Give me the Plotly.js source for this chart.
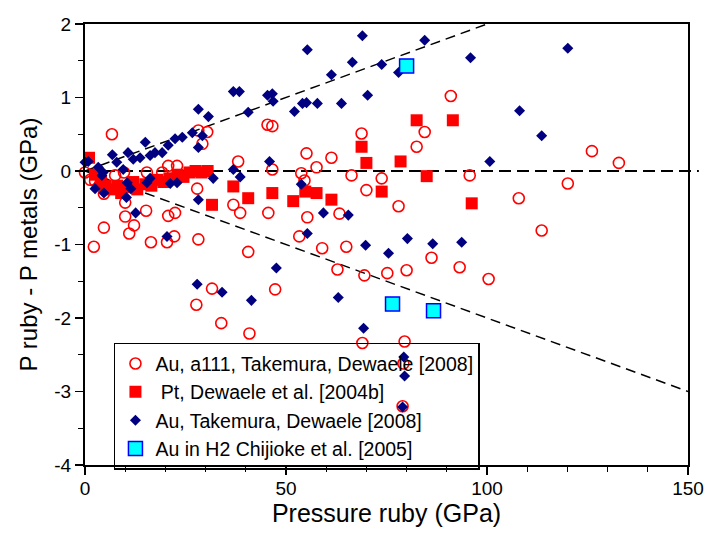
<!DOCTYPE html>
<html>
<head>
<meta charset="utf-8">
<script src="https://cdn.plot.ly/plotly-3.0.1.min.js"></script>
<style>
  html, body { margin: 0; padding: 0; background: #ffffff; }
  #chart { width: 707px; height: 537px; }
</style>
</head>
<body>
<div id="chart"></div>
<script>
// Au, a111 (Takemura, Dewaele 2008): ruby pressure and difference to metal scale
const auA111P = [0, 1.3, 2.2, 2.5, 4.7, 4.7, 6.7, 7.5, 9.7, 10, 10, 11, 12.2, 15.2, 15.4, 16.4, 19.2, 20.4,
  20.7, 20.7, 22.2, 22.4, 22.9, 27.7, 27.9, 28.2, 28.2, 29.2, 30.4, 31.6, 33.9, 36.9, 38.1, 38.6,
  40.6, 40.9, 45.4, 45.6, 46.6, 46.6, 47.3, 53.3, 53.8, 54.6, 55.1, 55.3, 57.6, 59, 61.3, 62.8,
  63.3, 65, 66.3, 68.8, 69, 69.5, 70, 73.8, 75.2, 78, 79.2, 79.5, 79, 80, 82.5, 84.5, 86.2, 91,
  93.2, 95.7, 100.4, 107.9, 113.6, 120.1, 126.1, 132.8];
const auA111D = [-0.02, -0.12, -1.03, -0.14, -0.31, -0.77, 0.50, -0.06, -0.02, -0.43, -0.62, -0.85, -0.74,
  -0.54, -0.02, -0.97, -0.02, -0.97, -0.61, 0.07, -0.89, -0.57, 0.07, -1.82, -0.24, -0.93, 0.55,
  0.37, 0.53, -1.60, -2.07, -0.46, 0.13, -0.57, -1.10, -2.21, 0.63, -0.57, 0.61, 0.02, -1.61,
  -0.89, -0.03, -0.13, 0.24, -0.63, 0.05, -1.05, 0.18, -1.34, -0.58, -1.03, -0.06, 0.51, -2.34,
  -1.42, -0.26, -0.10, -1.39, -0.48, -2.62, -2.32, -3.20, -1.35, 0.33, 0.53, -1.18, 1.02, -1.31,
  -0.06, -1.47, -0.37, -0.81, -0.17, 0.27, 0.11];

// Pt (Dewaele et al. 2004b)
const ptP = [1, 2.5, 4, 5, 6.5, 8, 9, 10.5, 12, 13, 15, 16.5, 18, 19.5, 21, 23, 24.5, 26, 27.5, 29,
  30.5, 31.6, 36.9, 40.6, 46.6, 51.8, 54.8, 57.6, 61.3, 68.8, 70, 73.8, 78.5, 82.5, 85, 91.5, 96.2];
const ptD = [0.18, -0.05, -0.15, -0.20, -0.25, -0.20, -0.30, -0.22, -0.15, -0.25, -0.18, -0.20, -0.12,
  -0.15, -0.10, -0.05, -0.08, -0.02, 0.00, -0.02, 0.00, -0.46, -0.21, -0.37, -0.30, -0.41, -0.28,
  -0.30, -0.39, 0.33, 0.11, -0.28, 0.13, 0.69, -0.07, 0.69, -0.44];

// Au (Takemura, Dewaele 2008)
const auP = [0, 0.8, 2.5, 3.3, 4.2, 4.5, 4.7, 6.8, 7.9, 9.5, 10.3, 10.5, 10.7, 11.4, 12, 12.6, 13.7, 15,
  15.4, 16.2, 16.2, 17.4, 19.2, 20.4, 20.7, 21.2, 22.4, 22.9, 24.2, 26.7, 27.9, 28.2, 28.2, 28.2,
  29.2, 30.7, 31.9, 34.1, 36.9, 36.9, 38.4, 38.6, 40.6, 41.4, 45.4, 45.9, 46.6, 46.8, 47.6, 52.1,
  53.8, 54.1, 55.1, 55.3, 55.3, 57.8, 59.3, 61.3, 63, 63.8, 65.5, 66.5, 69, 69.3, 69.8, 70.3, 73.8,
  75.5, 78, 79.3, 79.5, 79, 80.2, 84.5, 86.5, 93.7, 95.9, 100.7, 108.1, 113.6, 120.1];
const auD = [0.12, 0.13, -0.24, 0.05, -0.06, -0.02, -0.30, 0.22, 0.12, 0.02, -0.36, -0.16, 0.25, -0.24,
  0.16, -0.57, 0.18, 0.39, -0.16, 0.21, -0.10, 0.25, 0.25, -0.89, 0.35, -0.17, 0.44, -0.16, 0.46,
  0.52, -1.54, 0.84, 0.32, -0.39, 0.48, 0.74, -0.10, -1.65, 1.08, 0.02, 1.08, -0.08, 0.80, -1.76,
  1.03, 0.13, 1.05, 0.95, -1.32, 0.81, -0.18, 0.92, 0.93, 1.65, -0.85, 0.92, -0.57, 1.31, -1.72,
  0.92, -0.60, 1.48, 1.84, -2.14, -1.01, 1.03, 1.45, -1.12, 1.34, -2.53, -2.79, -3.21, -0.92, 1.78,
  -0.99, -0.97, 1.54, 0.13, 0.82, 0.48, 1.67];

// Au in H2 (Chijioke et al. 2005)
const auH2P = [80, 76.5, 86.7];
const auH2D = [1.43, -1.81, -1.90];

// +/- 2 % envelope
const envP = [0, 25, 50, 75, 100, 125, 150];
const envUpper = [0, 0.5, 1, 1.5, 2, 2.5, 3];
const envLower = [0, -0.5, -1, -1.5, -2, -2.5, -3];

const yTickVals = [2, 1, 0, -1, -2, -3, -4];
const yTickText = ['2', '1', '0', '-1', '-2', '-3', '-4'];
const xTickVals = [0, 50, 100, 150];
const xTickText = ['0', '50', '100', '150'];

const seriesNames = [
  'Au, a111, Takemura, Dewaele [2008]',
  ' Pt, Dewaele et al. [2004b]',
  'Au, Takemura, Dewaele [2008]',
  'Au in H2 Chijioke et al. [2005]'
];

const FONT = 'Arial, "Liberation Sans", sans-serif';

const traces = [
  {
    x: envP, y: envUpper, mode: 'lines', showlegend: false, hoverinfo: 'skip',
    line: { color: '#000000', width: 1.5, dash: '10px,6px' }
  },
  {
    x: envP, y: envLower, mode: 'lines', showlegend: false, hoverinfo: 'skip',
    line: { color: '#000000', width: 1.5, dash: '10px,6px' }
  },
  {
    x: auA111P, y: auA111D, mode: 'markers', name: seriesNames[0], cliponaxis: false,
    marker: { symbol: 'circle-open', size: 11, color: '#ff0000', line: { color: '#ff0000', width: 1.6 } }
  },
  {
    x: ptP, y: ptD, mode: 'markers', name: seriesNames[1], cliponaxis: false,
    marker: { symbol: 'square', size: 12, color: '#ff0000' }
  },
  {
    x: auP, y: auD, mode: 'markers', name: seriesNames[2], cliponaxis: false,
    marker: { symbol: 'diamond', size: 8.5, color: '#000080' }
  },
  {
    x: auH2P, y: auH2D, mode: 'markers', name: seriesNames[3], cliponaxis: false,
    marker: { symbol: 'square', size: 14, color: '#00ffff', line: { color: '#0000ff', width: 1.5 } }
  }
];

const layout = {
  width: 707,
  height: 537,
  margin: { l: 85, r: 19, t: 24, b: 72 },
  paper_bgcolor: '#ffffff',
  plot_bgcolor: '#ffffff',
  font: { family: FONT, color: '#000000', size: 19 },
  showlegend: true,
  legend: {
    x: 0.048, y: 0.277, xanchor: 'left', yanchor: 'top',
    bgcolor: 'rgba(255,255,255,0)',
    bordercolor: '#000000', borderwidth: 1.5,
    font: { family: FONT, size: 19.5, color: '#000000' },
    tracegroupgap: 0,
    itemwidth: 30
  },
  xaxis: {
    range: [0, 150],
    tickmode: 'array', tickvals: xTickVals, ticktext: xTickText,
    ticks: 'outside', ticklen: 8, tickwidth: 1.5, tickcolor: '#000000',
    ticklabelstandoff: -3,
    minor: { tickmode: 'linear', tick0: 0, dtick: 10, ticks: 'outside', ticklen: 5, tickwidth: 1.2, tickcolor: '#000000' },
    showline: true, linecolor: '#000000', linewidth: 2, mirror: true,
    showgrid: false, zeroline: false,
    tickfont: { family: FONT, size: 19, color: '#000000' },
    title: { text: 'Pressure ruby (GPa)', font: { family: FONT, size: 25, color: '#000000' }, standoff: 6 }
  },
  yaxis: {
    range: [-4, 2],
    tickmode: 'array', tickvals: yTickVals, ticktext: yTickText,
    ticks: 'outside', ticklen: 8, tickwidth: 1.5, tickcolor: '#000000',
    minor: { tickmode: 'linear', tick0: 0, dtick: 0.5, ticks: 'outside', ticklen: 5, tickwidth: 1.2, tickcolor: '#000000' },
    showline: true, linecolor: '#000000', linewidth: 2, mirror: true,
    showgrid: false, zeroline: false,
    tickfont: { family: FONT, size: 19, color: '#000000' },
    title: { text: 'P ruby - P metals (GPa)', font: { family: FONT, size: 24, color: '#000000' }, standoff: 10 }
  },
  shapes: [
    {
      type: 'line', xref: 'paper', yref: 'y', x0: 0, x1: 1.018, y0: 0, y1: 0,
      line: { color: '#000000', width: 2, dash: '12px,6px' }, layer: 'below'
    }
  ]
};

Plotly.newPlot('chart', traces, layout, { displayModeBar: false, staticPlot: true });
</script>
</body>
</html>
